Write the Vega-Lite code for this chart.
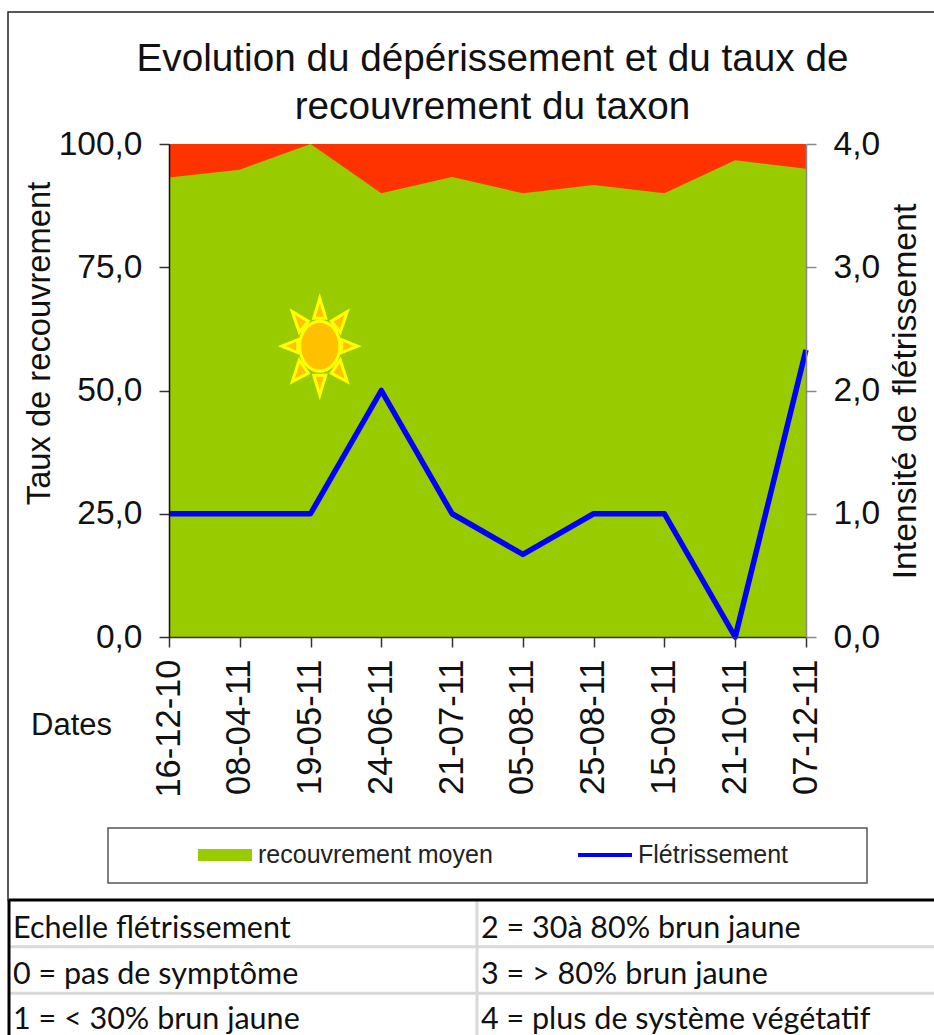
{
"$schema":"https://vega.github.io/schema/vega-lite/v6.json",
"width":637,"height":493,
"autosize":"none",
"padding":{"left":169,"top":144,"right":128,"bottom":398},
"background":"white",
"config":{"view":{"stroke":null},"font":"Liberation Sans"},
"title":{"text":["Evolution du dépérissement et du taux de","recouvrement du taxon"],"font":"Liberation Sans","fontSize":38.7,"fontWeight":"normal","color":"#111111","lineHeight":48,"anchor":"middle","frame":"group","dx":5,"dy":139,"offset":24},
"datasets":{
"couvert":[
{"date":"16-12-10","serie":"recouvrement moyen","valeur":93.2},
{"date":"08-04-11","serie":"recouvrement moyen","valeur":94.8},
{"date":"19-05-11","serie":"recouvrement moyen","valeur":100},
{"date":"24-06-11","serie":"recouvrement moyen","valeur":90},
{"date":"21-07-11","serie":"recouvrement moyen","valeur":93.3},
{"date":"05-08-11","serie":"recouvrement moyen","valeur":90},
{"date":"25-08-11","serie":"recouvrement moyen","valeur":91.7},
{"date":"15-09-11","serie":"recouvrement moyen","valeur":90},
{"date":"21-10-11","serie":"recouvrement moyen","valeur":96.7},
{"date":"07-12-11","serie":"recouvrement moyen","valeur":95}],
"fletri":[
{"date":"16-12-10","serie":"Flétrissement","valeur":1},
{"date":"08-04-11","serie":"Flétrissement","valeur":1},
{"date":"19-05-11","serie":"Flétrissement","valeur":1},
{"date":"24-06-11","serie":"Flétrissement","valeur":2},
{"date":"21-07-11","serie":"Flétrissement","valeur":1},
{"date":"05-08-11","serie":"Flétrissement","valeur":0.67},
{"date":"25-08-11","serie":"Flétrissement","valeur":1},
{"date":"15-09-11","serie":"Flétrissement","valeur":1},
{"date":"21-10-11","serie":"Flétrissement","valeur":0},
{"date":"07-12-11","serie":"Flétrissement","valeur":2.33}],
"fond":[
{"date":"16-12-10","valeur":100},
{"date":"07-12-11","valeur":100}]
},
"resolve":{"scale":{"x":"independent","y":"independent"}},
"layer":[
{"data":{"name":"fond"},"mark":{"type":"area","color":"#ff3300","interpolate":"linear"},
"encoding":{
"x":{"field":"date","type":"ordinal","sort":null,"axis":null,"scale":{"type":"point","padding":0,"domain":["16-12-10","07-12-11"]}},
"y":{"field":"valeur","type":"quantitative","stack":null,"axis":null,"scale":{"domain":[0,100],"nice":false}}}},
{"data":{"name":"couvert"},"mark":{"type":"area","interpolate":"linear"},
"encoding":{
"x":{"field":"date","type":"ordinal","sort":null,"title":"Dates","scale":{"type":"point","padding":0},
"axis":{"orient":"bottom","labelAngle":-90,"labelFont":"Liberation Sans","labelFontSize":34.5,"labelColor":"#111111","labelPadding":12,"tickSize":10,"tickColor":"#333333","domainColor":"#333333","tickWidth":1.5,"domainWidth":1.5,"zindex":1,"titleFont":"Liberation Sans","titleFontSize":31,"titleFontWeight":"normal","titleColor":"#111111","titleAngle":0,"titleX":-98,"titleY":88,"titleAlign":"center","titleBaseline":"middle"}},
"y":{"field":"valeur","type":"quantitative","stack":null,"title":"Taux de recouvrement","scale":{"domain":[0,100],"nice":false},
"axis":{"orient":"left","values":[0,25,50,75,100],"grid":false,"labelExpr":"replace(format(datum.value,'.1f'),'.',',')","labelFont":"Liberation Sans","labelFontSize":33.5,"labelColor":"#111111","labelPadding":17,"tickSize":10,"tickColor":"#333333","domainColor":"#111111","tickWidth":1.5,"domainWidth":1.5,"zindex":1,"titleFont":"Liberation Sans","titleFontSize":32.7,"titleFontWeight":"normal","titleColor":"#111111","titleAngle":270,"titleX":-130,"titleY":199,"titleAlign":"center","titleBaseline":"middle"}},
"color":{"field":"serie","type":"nominal","title":null,
"scale":{"domain":["recouvrement moyen","Flétrissement"],"range":["#99cc00","#0000ff"]},
"legend":{"orient":"none","legendX":29,"legendY":684,"direction":"horizontal","columns":2,"padding":0,"columnPadding":85,"rowPadding":0,"symbolSize":2916,"labelOffset":6,"labelLimit":400,"labelFont":"Liberation Sans","labelFontSize":25,"labelColor":"#222222","zindex":1,
"encode":{"symbols":{"update":{"shape":{"signal":"datum.value === 'Flétrissement' ? 'M-1,-0.07H1V0.07H-1Z' : 'M-1,-0.22H1V0.22H-1Z'"},"fill":{"signal":"datum.value === 'Flétrissement' ? '#0000ff' : '#99cc00'"},"stroke":{"value":"transparent"},"strokeWidth":{"value":0},"opacity":{"value":1}}}}}}}},
{"data":{"name":"fletri"},"mark":{"type":"line","strokeWidth":5.5,"strokeJoin":"round","interpolate":"linear"},
"encoding":{
"x":{"field":"date","type":"ordinal","sort":null,"axis":null,"scale":{"type":"point","padding":0}},
"y":{"field":"valeur","type":"quantitative","title":"Intensité de flétrissement","scale":{"domain":[0,4],"nice":false},
"axis":{"orient":"right","values":[0,1,2,3,4],"grid":false,"labelExpr":"replace(format(datum.value,'.1f'),'.',',')","labelFont":"Liberation Sans","labelFontSize":33.5,"labelColor":"#111111","labelPadding":17,"tickSize":10,"tickColor":"#888888","domainColor":"#888888","tickWidth":1.5,"domainWidth":1.5,"zindex":1,"titleFont":"Liberation Sans","titleFontSize":33.8,"titleFontWeight":"normal","titleColor":"#111111","titleAngle":270,"titleX":99,"titleY":247,"titleAlign":"center","titleBaseline":"middle"}},
"color":{"field":"serie","type":"nominal"}}},
{"data":{"values":[{"rang":2.13,"niveau":59}]},
"mark":{"type":"point","filled":true,"fill":"#ffc000","stroke":"#ffff00","strokeWidth":3,"opacity":1,"size":10000,
"shape":"M-0.4,0A0.4,0.5,0,1,1,0.4,0A0.4,0.5,0,1,1,-0.4,0ZM0,-0.96L0.12,-0.56L-0.12,-0.56ZM0,0.98L-0.12,0.58L0.12,0.58ZM-0.76,0L-0.44,-0.13L-0.44,0.13ZM0.76,0L0.44,0.13L0.44,-0.13ZM-0.55,-0.69L-0.23,-0.5L-0.41,-0.28ZM0.55,-0.69L0.41,-0.28L0.23,-0.5ZM-0.55,0.71L-0.41,0.28L-0.23,0.54ZM0.55,0.71L0.23,0.54L0.41,0.28Z"},
"encoding":{
"x":{"field":"rang","type":"quantitative","axis":null,"scale":{"domain":[0,9],"nice":false,"zero":false}},
"y":{"field":"niveau","type":"quantitative","axis":null,"scale":{"domain":[0,100],"nice":false}}}},
{"data":{"values":[{"a":0,"b":1,"c":0,"d":1}]},
"mark":{"type":"rect","fill":null,"fillOpacity":0,"stroke":"#222222","strokeWidth":1.5},
"encoding":{
"x":{"field":"a","type":"quantitative","axis":null,"scale":{"domain":[0,1],"range":[-161,790],"nice":false,"zero":false}},
"x2":{"field":"b"},
"y":{"field":"c","type":"quantitative","axis":null,"scale":{"domain":[0,1],"range":[-132,756],"nice":false,"zero":false}},
"y2":{"field":"d"}}},
{"data":{"values":[{"a":0,"b":1,"c":0,"d":1}]},
"mark":{"type":"rect","fill":null,"fillOpacity":0,"stroke":"#555555","strokeWidth":1.5},
"encoding":{
"x":{"field":"a","type":"quantitative","axis":null,"scale":{"domain":[0,1],"range":[-61,698],"nice":false,"zero":false}},
"x2":{"field":"b"},
"y":{"field":"c","type":"quantitative","axis":null,"scale":{"domain":[0,1],"range":[684,739],"nice":false,"zero":false}},
"y2":{"field":"d"}}},
{"data":{"values":[{"c1":1,"c2":1,"r1":0,"r2":3},{"c1":0,"c2":2,"r1":1,"r2":1},{"c1":0,"c2":2,"r1":2,"r2":2}]},
"mark":{"type":"rule","color":"#d9d9d9","strokeWidth":3},
"encoding":{
"x":{"field":"c1","type":"quantitative","axis":null,"scale":{"domain":[0,2],"range":[-160,776],"nice":false,"zero":false}},
"x2":{"field":"c2"},
"y":{"field":"r1","type":"quantitative","axis":null,"scale":{"domain":[0,3],"range":[756,896],"nice":false,"zero":false}},
"y2":{"field":"r2"}}},
{"data":{"values":[{"c1":0,"c2":0,"r1":0,"r2":3},{"c1":0,"c2":2,"r1":0,"r2":0}]},
"mark":{"type":"rule","color":"#000000","strokeWidth":3},
"encoding":{
"x":{"field":"c1","type":"quantitative","axis":null,"scale":{"domain":[0,2],"range":[-160,776],"nice":false,"zero":false}},
"x2":{"field":"c2"},
"y":{"field":"r1","type":"quantitative","axis":null,"scale":{"domain":[0,3],"range":[756,896],"nice":false,"zero":false}},
"y2":{"field":"r2"}}},
{"data":{"values":[
{"colonne":"A","ligne":"1","texte":"Echelle flétrissement"},
{"colonne":"A","ligne":"2","texte":"0 = pas de symptôme"},
{"colonne":"A","ligne":"3","texte":"1 = < 30% brun jaune"},
{"colonne":"B","ligne":"1","texte":"2 = 30à 80% brun jaune"},
{"colonne":"B","ligne":"2","texte":"3 = > 80% brun jaune"},
{"colonne":"B","ligne":"3","texte":"4 = plus de système végétatif"}]},
"mark":{"type":"text","align":"left","baseline":"middle","font":"Lato","fontSize":30.5,"color":"#111111"},
"encoding":{
"x":{"field":"colonne","type":"ordinal","axis":null,"scale":{"type":"point","padding":0,"domain":["A","B"],"range":[-156,312]}},
"y":{"field":"ligne","type":"ordinal","axis":null,"scale":{"type":"point","padding":0,"domain":["1","2","3"],"range":[785,876]}},
"text":{"field":"texte","type":"nominal"}}}
]
}
